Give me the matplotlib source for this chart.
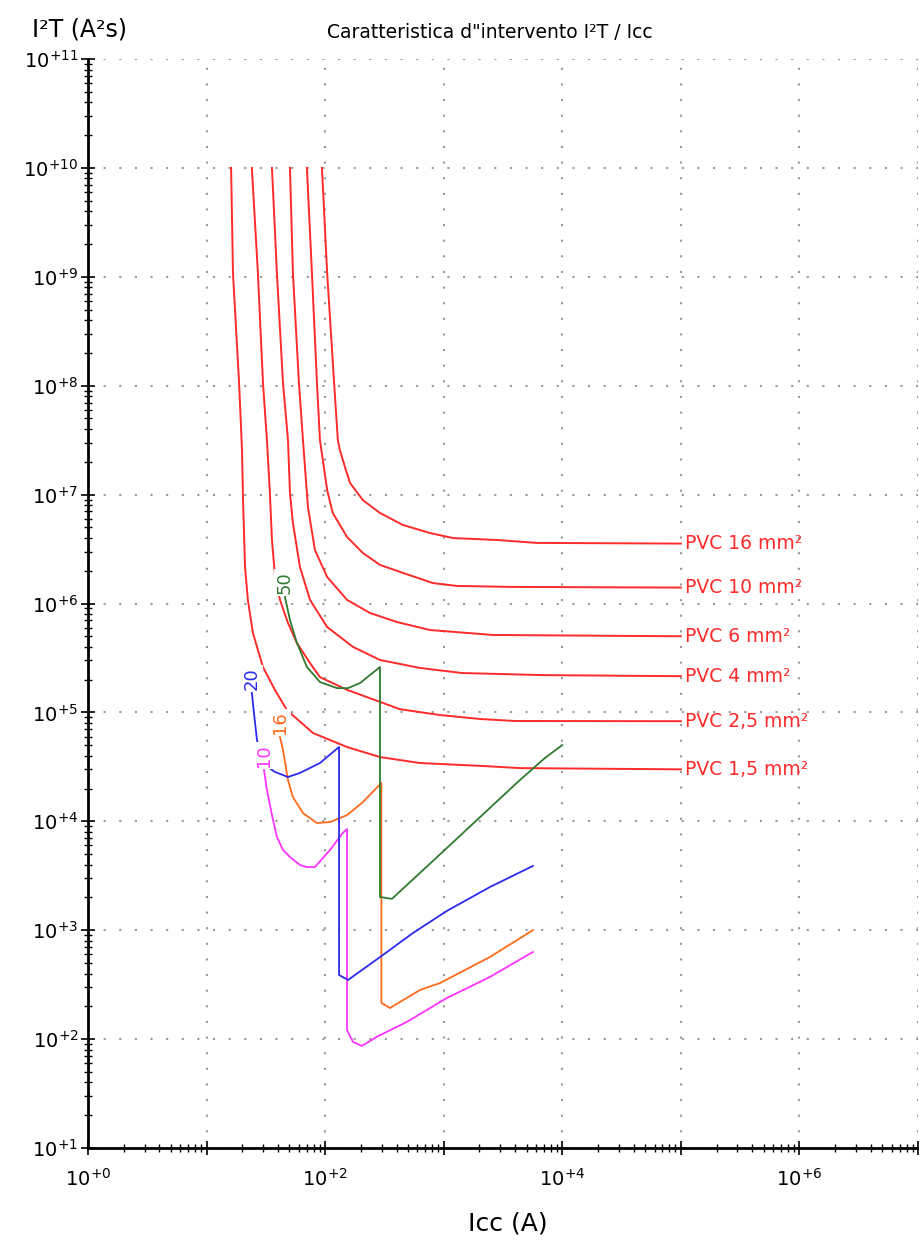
import matplotlib.pyplot as plt
import numpy as np
from matplotlib.ticker import LogLocator, NullFormatter

# === Curve I2t ammissibili dei cavi PVC ===
pvc_nomi = ['PVC 1,5 mm²', 'PVC 2,5 mm²', 'PVC 4 mm²', 'PVC 6 mm²', 'PVC 10 mm²', 'PVC 16 mm²']

icc_pvc_1_5 = [16.1, 16.7, 18.8, 19.9, 20.3, 21.1, 22.3, 24.6, 29.9, 37.7, 47.6, 78.9, 153, 290, 630, 2140, 4390, 1e5]
i2t_pvc_1_5 = [1e10, 1.08e9, 1.06e8, 2.57e7, 8.9e6, 2.16e6, 1.08e6, 5.36e5, 2.61e5, 1.61e5, 1.05e5, 6.47e4,
               4.81e4, 3.89e4, 3.43e4, 3.22e4, 3.08e4, 3.0e4]

icc_pvc_2_5 = [24.1, 27.1, 29.9, 32.3, 34.2, 35.6, 37.7, 41.6, 48.6, 57.8, 74.5, 90.4, 153, 290, 427, 929, 2020, 3980, 1e5]
i2t_pvc_2_5 = [1e10, 1.08e9, 1.06e8, 3.17e7, 1.03e7, 3.83e6, 1.83e6, 1.08e6, 6.62e5, 4.34e5, 2.84e5, 2.11e5,
               1.61e5, 1.25e5, 1.07e5, 9.46e4, 8.7e4, 8.34e4, 8.3e4]

icc_pvc_4 = [35.6, 39.2, 44.1, 48.6, 50.5, 53.5, 61.3, 74.5, 104, 172, 290, 630, 1420, 6860, 1e5]
i2t_pvc_4 = [1e10, 1.08e9, 1.06e8, 3.17e7, 1.03e7, 5.48e6, 2.16e6, 1.08e6, 6.08e5, 3.99e5, 3.03e5, 2.56e5,
             2.30e5, 2.20e5, 2.15e5]

icc_pvc_6 = [50.5, 53.5, 60.1, 65.0, 70.2, 71.6, 82.0, 104, 153, 239, 403, 765, 2600, 1e5]
i2t_pvc_6 = [1e10, 1.08e9, 1.06e8, 3.17e7, 1.03e7, 7.69e6, 3.10e6, 1.75e6, 1.08e6, 8.18e5, 6.76e5, 5.71e5,
             5.14e5, 5.0e5]

icc_pvc_10 = [70.2, 77.4, 85.3, 90.4, 104, 116, 153, 208, 290, 453, 811, 1290, 3760, 1e5]
i2t_pvc_10 = [1e10, 1.08e9, 1.06e8, 3.17e7, 1.10e7, 6.78e6, 4.08e6, 2.91e6, 2.26e6, 1.91e6, 1.54e6, 1.45e6,
              1.42e6, 1.40e6]

icc_pvc_16 = [94.0, 104, 119, 128, 133, 147, 162, 208, 290, 453, 765, 1200, 2810, 6110, 1e5]
i2t_pvc_16 = [1e10, 1.08e9, 1.06e8, 3.17e7, 2.57e7, 1.79e7, 1.28e7, 8.9e6, 6.78e6, 5.26e6, 4.44e6, 3.99e6,
              3.83e6, 3.60e6, 3.55e6]

# === Curve I2t limitate degli interruttori ===
int_nomi = ['10', '16', '20', '50']

icc_int_10 = [30.5, 32.3, 35.6, 39.2, 44.1, 50.5, 61.3, 70.2, 82.0, 110, 141, 153, 153, 172, 204, 273, 490,
              1060, 2450, 5650]
i2t_int_10 = [2.96e4, 1.94e4, 1.14e4, 7180, 5460, 4700, 3970, 3800, 3800, 5460, 7820, 8500, 121, 94, 86.5,
              105, 144, 238, 372, 631]

icc_int_16 = [41.6, 44.1, 48.6, 53.5, 65.0, 85.3, 110, 153, 208, 298, 298, 352, 630, 929, 2450, 5650]
i2t_int_16 = [5.94e4, 4.52e4, 2.39e4, 1.67e4, 1.19e4, 9640, 9850, 1.14e4, 1.50e4, 2.25e4, 215, 193, 282,
              327, 567, 1000]

icc_int_20 = [24.1, 25.1, 26.6, 29.3, 32.9, 37.7, 48.6, 61.3, 90.4, 131, 131, 156, 307, 550, 1060, 2450, 5650]
i2t_int_20 = [1.51e5, 9.87e4, 5.58e4, 3.89e4, 3.15e4, 2.84e4, 2.55e4, 2.78e4, 3.43e4, 4.81e4, 388, 349, 592,
              942, 1500, 2490, 3890]

icc_int_50 = [45.8, 50.5, 57.8, 70.2, 90.4, 126, 156, 197, 290, 290, 366, 1130, 4220, 7130, 1e4]
i2t_int_50 = [1.15e6, 7.05e5, 4.34e5, 2.61e5, 1.90e5, 1.67e5, 1.67e5, 1.86e5, 2.61e5, 2020, 1940, 6050,
              2.30e4, 3.81e4, 5.02e4]

# esponenti delle decadi sugli assi
esp_x = list(range(0, 8))
esp_y = list(range(1, 12))

curve_pvc = [(icc_pvc_1_5, i2t_pvc_1_5), (icc_pvc_2_5, i2t_pvc_2_5), (icc_pvc_4, i2t_pvc_4),
             (icc_pvc_6, i2t_pvc_6), (icc_pvc_10, i2t_pvc_10), (icc_pvc_16, i2t_pvc_16)]
curve_int = [(icc_int_10, i2t_int_10), (icc_int_16, i2t_int_16), (icc_int_20, i2t_int_20),
             (icc_int_50, i2t_int_50)]
colori_int = ['#ff33ff', '#ff6a1a', '#2a2aee', '#2f7a2f']

# === Figura ===
fig = plt.figure(figsize=(9.2, 12.41), dpi=100)
ax = fig.add_axes([88 / 920, 93 / 1241, 830 / 920, 1089 / 1241])
ax.set_xscale('log')
ax.set_yscale('log')
ax.set_xlim(1, 1e7)
ax.set_ylim(10, 1e11)

for (icc, i2t), nome in zip(curve_pvc, pvc_nomi):
    ax.plot(icc, i2t, color='#ff2a2a', lw=1.4, zorder=3)
    ax.annotate(nome, (icc[-1], i2t[-1]), xytext=(3, 0), textcoords='offset points',
                va='center', ha='left', color='#ff2a2a', fontsize=13.5)

for (icc, i2t), nome, col in zip(curve_int, int_nomi, colori_int):
    ax.plot(icc, i2t, color=col, lw=1.3, zorder=4)
    ax.annotate(nome, (icc[0], i2t[0]), xytext=(0, 2), textcoords='offset points',
                rotation=90, va='bottom', ha='center', color=col, fontsize=13, zorder=6,
                bbox=dict(facecolor='white', edgecolor='none', pad=1.5))

# === Assi e griglia ===
def etichetta(e):
    return r'$\mathregular{10^{+%d}}$' % e

ax.set_xticks([10.0 ** e for e in esp_x])
ax.set_xticklabels([etichetta(e) if e % 2 == 0 else '' for e in esp_x])
ax.set_yticks([10.0 ** e for e in esp_y])
ax.set_yticklabels([etichetta(e) for e in esp_y])
for axis in (ax.xaxis, ax.yaxis):
    axis.set_minor_locator(LogLocator(base=10, subs=np.arange(2, 10), numticks=30))
    axis.set_minor_formatter(NullFormatter())

ax.tick_params(which='major', direction='inout', length=10, width=1.2, labelsize=14)
ax.tick_params(which='minor', direction='inout', length=6, width=1.0)
ax.tick_params(axis='x', pad=9)
ax.tick_params(axis='y', pad=2)

ax.grid(which='major', color='#999999', linestyle=(0, (1, 6.5)), linewidth=1.5)
for s in ['top', 'right']:
    ax.spines[s].set_visible(False)
for s in ['left', 'bottom']:
    ax.spines[s].set_linewidth(2)

fig.text(80 / 920, 1 - 29 / 1241, 'I²T (A²s)', fontsize=17, ha='center', va='center')
fig.text(490 / 920, 1 - 33 / 1241, 'Caratteristica d"intervento I²T / Icc', fontsize=13.5,
         ha='center', va='center')
fig.text(508 / 920, 1 - 1223 / 1241, 'Icc (A)', fontsize=18, ha='center', va='center')

plt.savefig('out.png', dpi=100)
